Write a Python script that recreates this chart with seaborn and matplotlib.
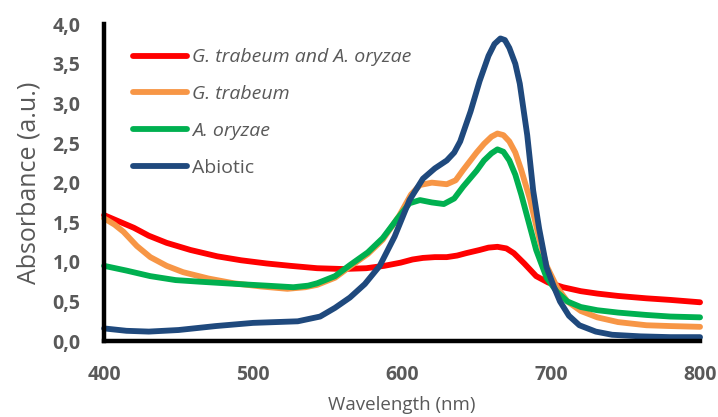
import matplotlib
matplotlib.use("Agg")
import matplotlib.pyplot as plt
import seaborn as sns
import pandas as pd

sns.set_theme(style="white")
plt.rcParams['font.family'] = ['Open Sans', 'DejaVu Sans']

labels = ["G. trabeum and A. oryzae", "G. trabeum", "A. oryzae", "Abiotic"]
colors = ["#FF0000", "#F79646", "#00B050", "#1F497D"]
x_ticks = [400, 500, 600, 700, 800]
y_ticks = [0.0, 0.5, 1.0, 1.5, 2.0, 2.5, 3.0, 3.5, 4.0]
y_tick_labels = ["0,0", "0,5", "1,0", "1,5", "2,0", "2,5", "3,0", "3,5", "4,0"]

wl_red = [400, 410, 420, 430, 442, 458, 476, 492, 509, 525, 543, 560, 576, 588, 599, 607, 614, 622, 630, 637,
          643, 652, 658, 664, 670, 675, 682, 690, 698, 708, 720, 731, 745, 764, 780, 800]
abs_red = [1.59, 1.51, 1.43, 1.33, 1.24, 1.15, 1.07, 1.02, 0.98, 0.95, 0.92, 0.91, 0.92, 0.95, 0.99, 1.03, 1.05, 1.06, 1.06, 1.08,
           1.11, 1.15, 1.18, 1.19, 1.17, 1.11, 0.98, 0.82, 0.74, 0.68, 0.63, 0.60, 0.57, 0.54, 0.52, 0.49]

wl_orange = [400, 407, 413, 422, 431, 442, 453, 470, 487, 505, 523, 535, 543, 555, 565, 577, 587, 598, 606, 612, 620,
             630, 636, 641, 650, 655, 660, 664, 668, 672, 676, 680, 686, 692, 697, 704, 711, 720, 731, 745, 764, 780, 800]
abs_orange = [1.55, 1.47, 1.38, 1.20, 1.06, 0.95, 0.87, 0.79, 0.73, 0.69, 0.66, 0.68, 0.71, 0.80, 0.94, 1.10, 1.28, 1.58, 1.85, 1.97, 2.00,
              1.98, 2.03, 2.16, 2.38, 2.49, 2.58, 2.62, 2.60, 2.52, 2.38, 2.16, 1.78, 1.30, 0.95, 0.68, 0.50, 0.38, 0.30, 0.24, 0.20, 0.19, 0.18]

wl_green = [400, 415, 431, 448, 464, 490, 509, 527, 537, 543, 555, 565, 577, 587, 597, 605, 612, 620, 628, 635,
            641, 650, 655, 660, 664, 668, 672, 676, 680, 684, 690, 697, 704, 711, 720, 731, 745, 764, 780, 800]
abs_green = [0.95, 0.89, 0.82, 0.77, 0.75, 0.72, 0.70, 0.68, 0.70, 0.73, 0.82, 0.96, 1.12, 1.30, 1.55, 1.74, 1.78, 1.75, 1.73, 1.80,
             1.95, 2.15, 2.28, 2.37, 2.42, 2.39, 2.28, 2.10, 1.85, 1.57, 1.15, 0.80, 0.62, 0.50, 0.43, 0.39, 0.36, 0.33, 0.31, 0.30]

wl_blue = [400, 415, 430, 450, 475, 500, 530, 545, 555, 565, 575, 585, 595, 605, 614, 622, 630, 635, 639, 646, 652,
           658, 662, 666, 669, 672, 676, 679, 684, 688, 692, 697, 702, 706, 712, 719, 730, 741, 760, 780, 800]
abs_blue = [0.16, 0.13, 0.12, 0.14, 0.19, 0.23, 0.25, 0.31, 0.42, 0.55, 0.72, 0.95, 1.32, 1.78, 2.05, 2.18, 2.28, 2.38, 2.52, 2.90, 3.28,
            3.60, 3.75, 3.82, 3.80, 3.70, 3.50, 3.25, 2.60, 1.90, 1.42, 0.93, 0.68, 0.50, 0.32, 0.20, 0.12, 0.08, 0.06, 0.05, 0.05]

series = [(wl_red, abs_red), (wl_orange, abs_orange), (wl_green, abs_green), (wl_blue, abs_blue)]

fig = plt.figure(figsize=(7.18, 4.17), dpi=100)
ax = fig.add_axes([0.145, 0.182, 0.83, 0.760])

for (wl, ab), lab, col in zip(series, labels, colors):
    df = pd.DataFrame({"Wavelength": wl, "Absorbance": ab})
    sns.lineplot(data=df, x="Wavelength", y="Absorbance", ax=ax, color=col, linewidth=4.2,
                 label=lab, sort=False, solid_capstyle="round", solid_joinstyle="round", clip_on=False)

ax.set_xlim(400, 800)
ax.set_ylim(0, 4.0)
ax.set_xticks(x_ticks, labels=[str(v) for v in x_ticks], fontweight="bold")
ax.set_yticks(y_ticks, labels=y_tick_labels, fontweight="bold")

for s in ["top", "right"]:
    ax.spines[s].set_visible(False)
for s in ["left", "bottom"]:
    ax.spines[s].set_color("black")
    ax.spines[s].set_linewidth(3.2)
ax.tick_params(axis="both", length=0, labelsize=14, labelcolor="#595959")
ax.tick_params(axis="y", pad=17)
ax.tick_params(axis="x", pad=17)

ax.set_xlabel("Wavelength (nm)", fontsize=13.5, color="#595959", labelpad=8)
ax.set_ylabel("Absorbance (a.u.)", fontsize=18, color="#595959", labelpad=8)

leg = ax.legend(loc="upper left", bbox_to_anchor=(0.035, 0.948), frameon=False, handlelength=2.8,
                handletextpad=0.25, labelspacing=0.97, fontsize=14, borderaxespad=0)
for t, lab in zip(leg.get_texts(), labels):
    t.set_color("#595959")
    if lab != "Abiotic":
        t.set_fontstyle("italic")
for h in leg.get_lines():
    h.set_linewidth(4.2)
    h.set_solid_capstyle("round")

fig.savefig("out.png", dpi=100)
